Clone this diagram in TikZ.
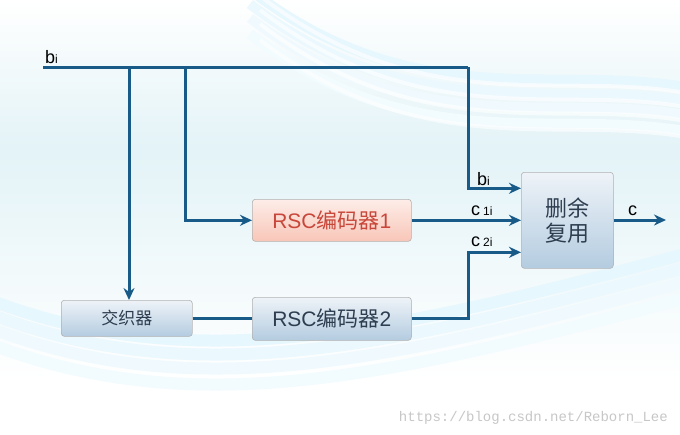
\documentclass[tikz,border=0pt]{standalone}
\usepackage{fontspec}
\setmainfont{Liberation Sans}
\newfontfamily\cjk{Noto Sans CJK SC}
\newfontfamily\monof{Liberation Mono}
\usetikzlibrary{arrows.meta,shadings}
\definecolor{wire}{HTML}{195B88}
\definecolor{pinkA}{HTML}{FDEDE8}
\definecolor{pinkB}{HTML}{F8C6B8}
\definecolor{blueA}{HTML}{EEF3F8}
\definecolor{blueB}{HTML}{B4CCE0}
\definecolor{redtxt}{HTML}{C8463A}
\definecolor{darktxt}{HTML}{2E3E50}
\definecolor{bgcyan}{HTML}{E3F3F7}
\tikzset{
  wireline/.style={draw=wire,line width=3pt},
  arr/.style={wireline,-{Stealth[length=12pt,width=11pt]}},
  box/.style={draw=black!30,rounded corners=3pt,line width=0.6pt,inner sep=0pt,anchor=north west},
  bluebox/.style={box,top color=blueA,bottom color=blueB},
  pinkbox/.style={box,top color=pinkA,bottom color=pinkB},
  lbl/.style={font=\fontsize{18}{18}\selectfont,text=black,inner sep=0pt},
}
\newcommand{\sbi}[1]{\raisebox{-0.5pt}{\fontsize{12}{12}\selectfont #1}}
\begin{document}
\begin{tikzpicture}[x=1pt,y=-1pt]
\useasboundingbox (0,0) rectangle (680,434);
% background
\shade[top color=white,bottom color=bgcyan] (0,0) rectangle (680,150);
\shade[top color=bgcyan,bottom color=white] (0,150) rectangle (680,380);
\fill[white] (0,380) rectangle (680,434);
\begin{scope}
\clip (0,0) rectangle (680,434);
\foreach \o/\c in {0/10,14/8,28/6,44/5}{
  \draw[cyan!\c,line width=10pt] (250,-10+\o) .. controls (420,120+\o) and (560,60+\o) .. (700,90+\o);
  \draw[white,opacity=0.6,line width=4pt] (260,-4+\o) .. controls (430,126+\o) and (570,66+\o) .. (700,96+\o);
  \draw[cyan!\c,line width=12pt] (-10,300+\o) .. controls (200,380+\o) and (400,330+\o) .. (700,250+\o);
}
\end{scope}
% nodes
\node[pinkbox,minimum width=159pt,minimum height=42pt] (rsc1) at (252,199) {};
\node[text=redtxt,font=\fontsize{21}{21}\selectfont] at (rsc1.center) {RSC{\cjk 编码器}1};
\node[bluebox,minimum width=159pt,minimum height=43pt] (rsc2) at (252,297) {};
\node[text=darktxt,font=\fontsize{21}{21}\selectfont] at (rsc2.center) {RSC{\cjk 编码器}2};
\node[bluebox,minimum width=131pt,minimum height=36pt] (intl) at (61,300) {};
\node[text=darktxt,font=\cjk\fontsize{17}{17}\selectfont] at (intl.center) {交织器};
\node[bluebox,minimum width=92pt,minimum height=96pt] (mux) at (521,172) {};
\node[text=darktxt,font=\cjk\fontsize{22}{25}\selectfont,align=center] at (mux.center) {删余\\复用};
% coordinates
\coordinate (s) at (43,67);
\coordinate (t) at (468,67);
\coordinate (v1) at (129,67);
\coordinate (v2) at (185,67);
\coordinate (out) at (666,220);
% wires
\draw[wireline] (s) -- (t);
\draw[arr] (t) |- ([yshift=32pt]mux.west);
\draw[arr] (v1) -- (v1 |- intl.north);
\draw[arr] (v2) |- (rsc1.west);
\draw[arr] (rsc1.east) -- (rsc1.east -| mux.west);
\draw[wireline] (intl.east |- rsc2.west) -- (rsc2.west);
\draw[arr] (rsc2.east) -| ([xshift=-53pt,yshift=-32pt]mux.west) -- ([yshift=-32pt]mux.west);
\draw[arr] (mux.east |- out) -- (out);
% labels
\node[lbl,anchor=base west] (lb0) at (45,63) {b\sbi{i}};
\node[lbl,anchor=base west] (lb1) at (477,185) {b\sbi{i}};
\node[lbl,anchor=base west] (lc1) at (471,215) {c\,\sbi{1i}};
\node[lbl,anchor=base west] (lc2) at (471,246) {c\,\sbi{2i}};
\node[lbl,anchor=base west] (lc) at (628,215) {c};
\node[anchor=base east,text=black!22,font=\monof\fontsize{14}{14}\selectfont,inner sep=0pt] (wm) at (668,421) {https://blog.csdn.net/Reborn\_Lee};
\end{tikzpicture}
\end{document}
